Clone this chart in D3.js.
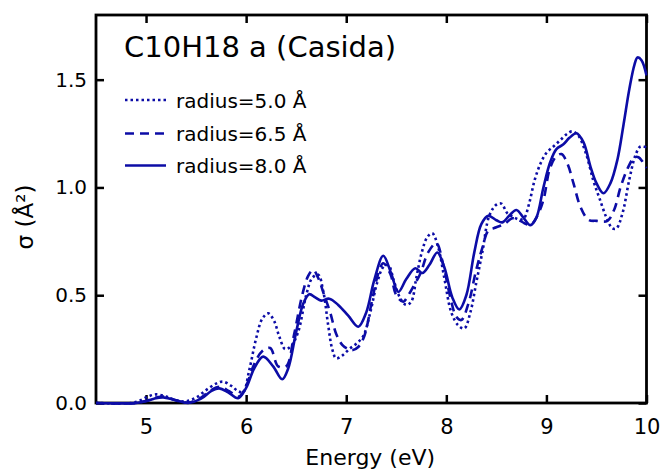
<!DOCTYPE html>
<html>
<head>
<meta charset="utf-8">
<script src="https://cdn.jsdelivr.net/npm/d3@7"></script>
<style>
  html, body { margin: 0; padding: 0; background: #fff; }
  svg { display: block; }
  text { font-family: "DejaVu Sans", sans-serif; fill: #000; }
</style>
</head>
<body>
<svg id="chart" width="662" height="471"></svg>
<script>
// ---------------- data ----------------
const titleText = "C10H18 a (Casida)";
const xTicks = [5, 6, 7, 8, 9, 10];
const yTicks = [0.0, 0.5, 1.0, 1.5];
const yTickLabels = ["0.0", "0.5", "1.0", "1.5"];
const xLabel = "Energy (eV)";
const yLabel = "σ (Å²)";
const seriesNames = ["radius=5.0 Å", "radius=6.5 Å", "radius=8.0 Å"];

// radius = 5.0 Å (dotted)
const energy50 = [4.5, 4.85, 4.93, 5.02, 5.1, 5.2, 5.3, 5.4, 5.5, 5.6, 5.7, 5.77, 5.85, 5.92, 5.97,
  6.03, 6.1, 6.16, 6.22, 6.28, 6.33, 6.39, 6.45, 6.52, 6.6, 6.66, 6.72, 6.77, 6.82, 6.86, 6.9, 6.96,
  7.03, 7.1, 7.17, 7.24, 7.31, 7.37, 7.42, 7.48, 7.54, 7.6, 7.65, 7.7, 7.75, 7.81, 7.86, 7.92, 7.98,
  8.05, 8.12, 8.18, 8.24, 8.3, 8.36, 8.43, 8.5, 8.55, 8.61, 8.68, 8.74, 8.78, 8.83, 8.88, 8.94,
  9.0, 9.07, 9.14, 9.21, 9.26, 9.32, 9.4, 9.47, 9.53, 9.6, 9.66, 9.7, 9.76, 9.83, 9.89, 9.94, 10.0];
const sigma50 = [0, 0, 0.01, 0.03, 0.04, 0.03, 0.012, 0.008, 0.025, 0.06, 0.09, 0.099, 0.08, 0.055, 0.05,
  0.15, 0.3, 0.39, 0.416, 0.38, 0.31, 0.25, 0.265, 0.33, 0.5, 0.58, 0.595, 0.52, 0.36, 0.25, 0.207, 0.22,
  0.25, 0.275, 0.31, 0.42, 0.56, 0.63, 0.64, 0.56, 0.486, 0.455, 0.47, 0.58, 0.69, 0.77, 0.787, 0.72, 0.58,
  0.42, 0.36, 0.346, 0.42, 0.56, 0.7, 0.87, 0.92, 0.925, 0.88, 0.86, 0.85, 0.86, 0.93, 1.03, 1.11,
  1.16, 1.19, 1.22, 1.25, 1.26, 1.24, 1.15, 1.03, 0.95, 0.86, 0.81, 0.81, 0.88, 1.04, 1.15, 1.19, 1.185];

// radius = 6.5 Å (dashed)
const energy65 = [4.5, 4.9, 5.0, 5.1, 5.17, 5.28, 5.42, 5.55, 5.65, 5.74, 5.83, 5.93,
  6.0, 6.08, 6.16, 6.24, 6.32, 6.4, 6.48, 6.56, 6.62, 6.67, 6.72, 6.78, 6.84, 6.9, 6.96,
  7.02, 7.06, 7.12, 7.18, 7.26, 7.32, 7.37, 7.44, 7.5, 7.57, 7.62, 7.67, 7.74, 7.82, 7.9, 7.97,
  8.04, 8.1, 8.15, 8.22, 8.3, 8.36, 8.42, 8.5, 8.58, 8.66, 8.72, 8.78, 8.84, 8.9, 8.97,
  9.03, 9.09, 9.15, 9.21, 9.27, 9.34, 9.42, 9.5, 9.61, 9.68, 9.74, 9.82, 9.88, 9.92, 9.96, 10.0];
const sigma65 = [0, 0, 0.01, 0.025, 0.03, 0.015, 0.002, 0.025, 0.06, 0.075, 0.055, 0.03,
  0.08, 0.18, 0.24, 0.255, 0.17, 0.17, 0.32, 0.5, 0.59, 0.618, 0.58, 0.5, 0.42, 0.32, 0.27,
  0.25, 0.245, 0.26, 0.31, 0.48, 0.6, 0.648, 0.6, 0.5, 0.47, 0.5, 0.54, 0.6, 0.7, 0.741, 0.64,
  0.49, 0.4, 0.385, 0.46, 0.62, 0.72, 0.8, 0.815, 0.83, 0.857, 0.85, 0.834, 0.826, 0.86, 0.942,
  1.08, 1.14, 1.155, 1.11, 1.02, 0.91, 0.85, 0.845, 0.845, 0.9, 1.0, 1.097, 1.14, 1.14, 1.12, 1.09];

// radius = 8.0 Å (solid)
const energy80 = [4.5, 4.9, 5.0, 5.08, 5.17, 5.28, 5.42, 5.55, 5.65, 5.73, 5.82, 5.92,
  6.0, 6.08, 6.17, 6.27, 6.36, 6.42, 6.5, 6.57, 6.63, 6.69, 6.75, 6.83, 6.92,
  7.02, 7.12, 7.2, 7.28, 7.37, 7.45, 7.52, 7.6, 7.69, 7.76, 7.83, 7.91, 7.98,
  8.06, 8.13, 8.2, 8.28, 8.35, 8.42, 8.5, 8.56, 8.63, 8.7, 8.77, 8.84, 8.9, 8.97,
  9.04, 9.1, 9.17, 9.23, 9.3, 9.37, 9.44, 9.5, 9.57, 9.64, 9.71, 9.77, 9.83, 9.88, 9.91, 9.95, 10.0];
const sigma80 = [0, 0, 0.008, 0.02, 0.026, 0.015, 0.0, 0.02, 0.055, 0.068, 0.05, 0.022,
  0.07, 0.16, 0.215, 0.17, 0.11, 0.16, 0.33, 0.46, 0.505, 0.49, 0.475, 0.484, 0.455,
  0.405, 0.354, 0.42, 0.57, 0.683, 0.6, 0.515, 0.575, 0.625, 0.603, 0.64, 0.698, 0.63,
  0.49, 0.434, 0.5, 0.7, 0.83, 0.868, 0.848, 0.838, 0.87, 0.895, 0.86, 0.825, 0.86, 1.0,
  1.12, 1.178, 1.2, 1.23, 1.251, 1.21, 1.097, 1.02, 0.973, 1.02, 1.13, 1.29, 1.46, 1.57, 1.603, 1.59, 1.52];

// ---------------- layout ----------------
const color = "#0c0ca6";
const svg = d3.select("#chart");
const L = 96, R = 646.5, T = 15, B = 403;

const x = d3.scaleLinear().domain([4.5, 10]).range([L, R]);
const y = d3.scaleLinear().domain([0, 1.8]).range([B, T]);

const series = [
  { name: seriesNames[0], e: energy50, s: sigma50, dash: "2.5,3", width: 2.6 },
  { name: seriesNames[1], e: energy65, s: sigma65, dash: "9,6", width: 2.6 },
  { name: seriesNames[2], e: energy80, s: sigma80, dash: null, width: 2.6 }
];

svg.append("defs").append("clipPath").attr("id", "clip")
  .append("rect").attr("x", L).attr("y", T - 2).attr("width", R - L + 1).attr("height", B - T + 4);

// axes (ticks inward on all four sides)
const tickLen = 8;
const axB = svg.append("g").attr("transform", `translate(0,${B})`)
  .call(d3.axisBottom(x).tickValues(xTicks).tickSizeInner(-tickLen).tickSizeOuter(0).tickPadding(16).tickFormat(d3.format("d")));
const axT = svg.append("g").attr("transform", `translate(0,${T})`)
  .call(d3.axisTop(x).tickValues(xTicks).tickSizeInner(-tickLen).tickSizeOuter(0).tickFormat(""));
const axL = svg.append("g").attr("transform", `translate(${L},0)`)
  .call(d3.axisLeft(y).tickValues(yTicks).tickSizeInner(-tickLen).tickSizeOuter(0).tickPadding(9)
    .tickFormat((d, i) => yTickLabels[i]));
const axR = svg.append("g").attr("transform", `translate(${R},0)`)
  .call(d3.axisRight(y).tickValues(yTicks).tickSizeInner(-tickLen).tickSizeOuter(0).tickFormat(""));

[axB, axT, axL, axR].forEach(a => {
  a.select(".domain").remove();
  a.selectAll(".tick line").attr("stroke", "#000").attr("stroke-width", 2.5);
  a.selectAll(".tick text").style("font-family", "'DejaVu Sans', sans-serif").attr("fill", "#000");
});
axB.selectAll(".tick text").style("font-size", "21px");
axL.selectAll(".tick text").style("font-size", "20px");

// frame
svg.append("rect")
  .attr("x", L).attr("y", T).attr("width", R - L).attr("height", B - T)
  .attr("fill", "none").attr("stroke", "#000").attr("stroke-width", 2.8);

// curves (drawn over the frame, as in the reference)
const line = d3.line()
  .x(d => x(d[0])).y(d => y(d[1]))
  .curve(d3.curveCatmullRom.alpha(0.5));

const plot = svg.append("g").attr("clip-path", "url(#clip)");
series.forEach(sr => {
  const pts = sr.e.map((v, i) => [v, sr.s[i]]);
  plot.append("path")
    .datum(pts)
    .attr("d", line)
    .attr("fill", "none")
    .attr("stroke", color)
    .attr("stroke-width", sr.width)
    .attr("stroke-dasharray", sr.dash)
    .attr("stroke-linejoin", "round");
});

// axis titles
svg.append("text").attr("x", (L + R) / 2 - 1).attr("y", 465)
  .attr("text-anchor", "middle").style("font-size", "22px").text(xLabel);
svg.append("text")
  .attr("transform", `translate(33,217) rotate(-90)`)
  .attr("text-anchor", "middle").style("font-size", "23px").text(yLabel);

// title
svg.append("text").attr("x", 124).attr("y", 57)
  .style("font-size", "29px").text(titleText);

// legend
const legY = [100, 133.5, 165.5];
series.forEach((sr, i) => {
  svg.append("line")
    .attr("x1", 125).attr("x2", 166).attr("y1", legY[i]).attr("y2", legY[i])
    .attr("stroke", color).attr("stroke-width", sr.width)
    .attr("stroke-dasharray", sr.dash);
  svg.append("text").attr("x", 176).attr("y", legY[i] + 7.5)
    .style("font-size", "20px").text(sr.name);
});
</script>
</body>
</html>
